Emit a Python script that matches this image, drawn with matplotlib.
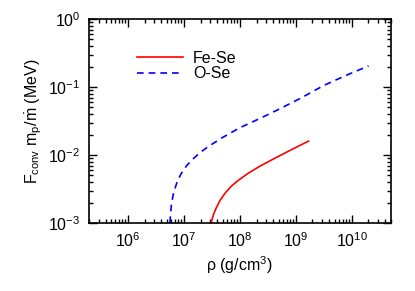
import matplotlib
matplotlib.use("Agg")
import matplotlib.pyplot as plt
from matplotlib.ticker import LogLocator, NullFormatter

plt.rcParams['font.family'] = ['Liberation Sans', 'DejaVu Sans']
plt.rcParams['mathtext.fontset'] = 'custom'
plt.rcParams['mathtext.rm'] = 'Liberation Sans'
plt.rcParams['mathtext.it'] = 'Liberation Sans:italic'
plt.rcParams['mathtext.bf'] = 'Liberation Sans:bold'
plt.rcParams['axes.unicode_minus'] = False

# O-Se (blue dashed)
ose_rho = [5.65e6, 6.03e6, 6.61e6, 7.59e6, 8.91e6, 1.12e7, 1.41e7, 2.0e7, 2.82e7,
           5.01e7, 1.0e8, 2.34e8, 5.25e8, 1.26e9, 3.16e9, 7.94e9, 2.01e10]
ose_F = [1.0e-3, 1.91e-3, 2.82e-3, 3.98e-3, 5.25e-3, 6.92e-3, 8.51e-3, 1.10e-2, 1.35e-2,
         1.82e-2, 2.51e-2, 3.47e-2, 4.79e-2, 6.92e-2, 0.105, 0.148, 0.204]

# Fe-Se (red solid)
fese_rho = [3.08e7, 3.39e7, 3.80e7, 4.47e7, 5.62e7, 7.08e7, 9.55e7, 1.41e8, 2.24e8,
            3.98e8, 7.94e8, 1.70e9]
fese_F = [1.0e-3, 1.32e-3, 1.66e-3, 2.16e-3, 2.82e-3, 3.47e-3, 4.27e-3, 5.37e-3, 6.76e-3,
          8.71e-3, 1.17e-2, 1.60e-2]

fig = plt.figure(figsize=(4.15, 2.91), dpi=100)
ax = fig.add_axes([0.2137, 0.2337, 0.7277, 0.701])

ax.plot(fese_rho, fese_F, color='#ff0000', lw=1.2, label='Fe-Se')
ax.plot(ose_rho, ose_F, color='#0000ff', lw=1.2, linestyle=(0, (4, 3)), label='O-Se')

ax.set_xscale('log')
ax.set_yscale('log')
ax.set_xlim(2e5, 5e10)
ax.set_ylim(1e-3, 1)

ax.xaxis.set_major_locator(LogLocator(base=10, numticks=20))
ax.xaxis.set_minor_locator(LogLocator(base=10, subs=range(2, 10), numticks=20))
ax.xaxis.set_minor_formatter(NullFormatter())
ax.yaxis.set_major_locator(LogLocator(base=10, numticks=20))
ax.yaxis.set_minor_locator(LogLocator(base=10, subs=range(2, 10), numticks=20))
ax.yaxis.set_minor_formatter(NullFormatter())

ax.tick_params(which='both', direction='in', top=True, right=True, labelsize=11.5, width=1.0)
ax.tick_params(which='major', length=5.8, pad=6)
ax.tick_params(which='minor', length=3)
for s in ax.spines.values():
    s.set_linewidth(1.2)

ax.set_xlabel('ρ (g/cm$^{3}$)', fontsize=11.5, labelpad=3)
ax.set_ylabel(r'F$_{\rm conv}$ m$_{\rm p}$/$\dot{\rm m}$ (MeV)', fontsize=11.5, labelpad=3)

ax.legend(loc='upper left', bbox_to_anchor=(0.16, 0.845), frameon=False, fontsize=11.5,
          handlelength=2.9, borderpad=0, borderaxespad=0, labelspacing=0.05, handletextpad=0.6)

fig.savefig('out.png', dpi=100)
